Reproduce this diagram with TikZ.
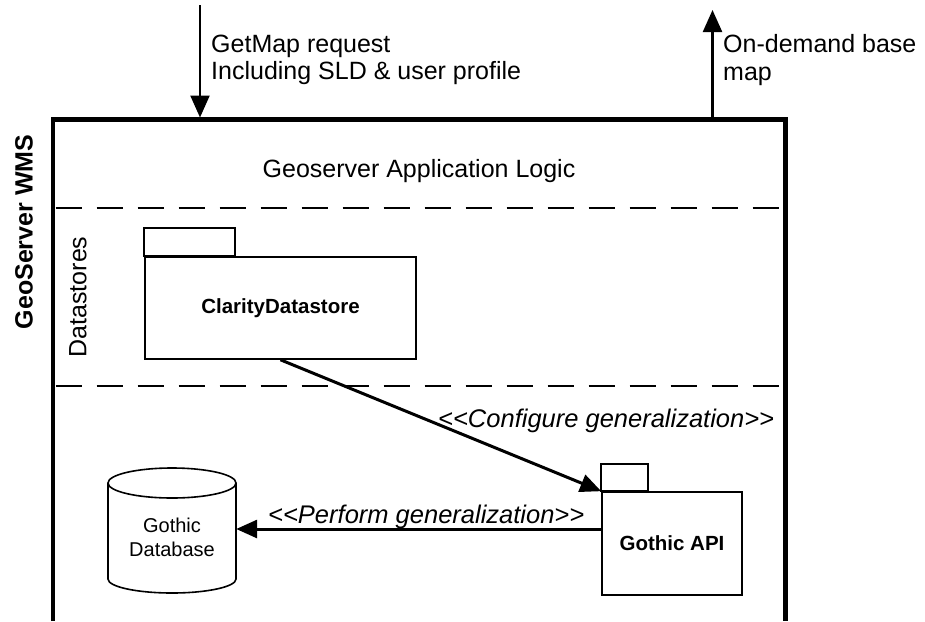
\documentclass[tikz,border=0pt]{standalone}
\usepackage{fontspec}
\setmainfont{Liberation Sans}
\usetikzlibrary{arrows.meta}
\begin{document}
\begin{tikzpicture}[x=1pt,y=-1pt,
  frameline/.style={line width=4.5pt, line join=miter},
  sepline/.style={line width=1.5pt, dash pattern=on 26pt off 15pt},
  pkg/.style={draw, line width=1.6pt, rectangle, inner sep=0pt, font=\fontsize{20.5}{24}\selectfont\bfseries},
  tabbox/.style={draw, line width=1.6pt},
  arr/.style={line width=3pt, -{Triangle[length=21pt,width=18pt]}},
  vio/.style={line width=2.3pt, -{Triangle[length=22pt,width=19pt]}},
  lbl/.style={inner sep=0pt, font=\fontsize{25}{28}\selectfont},
  ilbl/.style={inner sep=0pt, font=\fontsize{25.5}{28}\selectfont\itshape}]
\useasboundingbox (0,0) rectangle (925,621);

% outer frame (open at bottom)
\draw[frameline] (53,621) -- (53,119.5) -- (785.5,119.5) -- (785.5,621);
% separators
\draw[sepline] (55.5,208) -- (783,208);
\draw[sepline] (55.5,386) -- (783,386);

% external arrows
\coordinate (reqStart) at (200,5);
\coordinate (reqEnd) at (200,117.5);
\draw[vio] (reqStart) -- (reqEnd);
\coordinate (outStart) at (712.5,117.5);
\coordinate (outEnd) at (712.5,10);
\draw[vio] (outStart) -- (outEnd);

\node[lbl, anchor=base west] (req1) at (211,52.3) {GetMap request};
\node[lbl, anchor=base west] (req2) at (211,79.5) {Including SLD \& user profile};
\node[lbl, anchor=base west] (out1) at (723,52) {On-demand base};
\node[lbl, anchor=base west] (out2) at (723,80) {map};

\node[lbl, anchor=base] (logic) at (419,177) {Geoserver Application Logic};
\node[lbl, font=\fontsize{25}{28}\selectfont\bfseries, rotate=90] (wms) at (24,232) {GeoServer WMS};
\node[lbl, rotate=90] (ds) at (78,297) {Datastores};

% packages
\node[pkg, minimum width=271pt, minimum height=102pt] (cds) at (280.5,308) {ClarityDatastore};
\draw[tabbox] (cds.north west) rectangle ++(91,-28);
\node[pkg, minimum width=140pt, minimum height=103pt] (api) at (672,543.5) {Gothic API};
\draw[tabbox] (api.north west) rectangle ++(47,-27);

% database cylinder
\node[minimum width=128pt, minimum height=125pt, inner sep=0pt] (cyl) at (172,530.5) {};
\draw[tabbox] (108,483) -- (108,579) arc[start angle=180, end angle=360, x radius=64pt, y radius=14pt] -- (236,483);
\draw[tabbox] (172,483) ellipse[x radius=64pt, y radius=15pt];
\node[inner sep=0pt, align=center, font=\fontsize{20}{24}\selectfont] (dbtxt) at (172,537.7) {Gothic\\Database};

% connectors
\draw[arr] (cds.south) -- (api.north west);
\coordinate (pstart) at ([yshift=14.5pt]api.west);
\draw[arr] (pstart) -- (pstart -| cyl.east);

\node[ilbl, anchor=base west] (cfg) at (438,427) {<\kern0pt<Configure generalization>\kern0pt>};
\node[ilbl, anchor=base west] (perf) at (268,523) {<\kern0pt<Perform generalization>\kern0pt>};
\end{tikzpicture}
\end{document}
